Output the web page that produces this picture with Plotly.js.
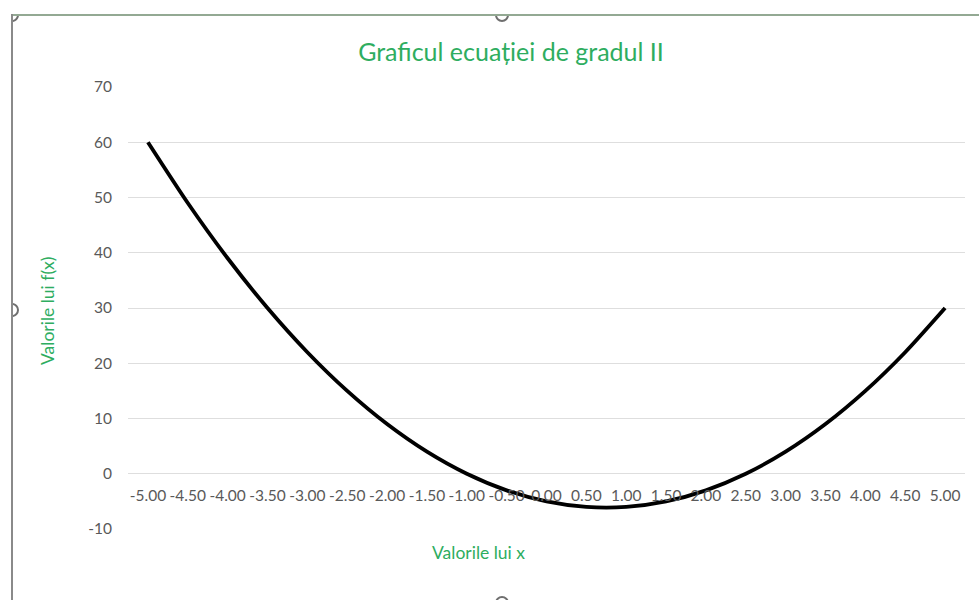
<!DOCTYPE html>
<html>
<head>
<meta charset="utf-8">
<script src="https://cdn.plot.ly/plotly-3.0.1.min.js"></script>
<style>
  html, body { margin: 0; padding: 0; background: #fff; }
  #wrap { position: relative; width: 979px; height: 600px; overflow: hidden; }
  #chart { position: absolute; left: 0; top: 0; width: 979px; height: 600px; }
  .frameTop { position: absolute; left: 12px; top: 14px; width: 967px; height: 0; border-top: 2px solid #93a993; }
  .frameLeft { position: absolute; left: 11px; top: 14px; width: 0; height: 590px; border-left: 2px solid #8a8a8a; }
  .handle { position: absolute; width: 10px; height: 10px; border: 2px solid #6f6f6f; border-radius: 50%; background: transparent; }
  .clip { position: absolute; overflow: hidden; }
</style>
</head>
<body>
<div id="wrap">
  <div id="chart"></div>
  <div class="frameTop"></div>
  <div class="frameLeft"></div>
  <!-- selection handles (decorative) -->
  <div class="clip" style="left:494px; top:16px; width:16px; height:10px;"><div class="handle" style="left:1px; top:-8px;"></div></div>
  <div class="clip" style="left:13px; top:302px; width:10px; height:16px;"><div class="handle" style="left:-8px; top:1px;"></div></div>
  <div class="clip" style="left:13px; top:16px; width:10px; height:10px;"><div class="handle" style="left:-8px; top:-8px;"></div></div>
  <div class="clip" style="left:494px; top:594px; width:16px; height:6px;"><div class="handle" style="left:1px; top:2px;"></div></div>
</div>
<script>
// Data
const xLabels = ["-5.00","-4.50","-4.00","-3.50","-3.00","-2.50","-2.00","-1.50","-1.00","-0.50",
                 "0.00","0.50","1.00","1.50","2.00","2.50","3.00","3.50","4.00","4.50","5.00"];
const fValues = [60, 49, 39, 30, 22, 15, 9, 4, 0, -3, -5, -6, -6, -5, -3, 0, 4, 9, 15, 22, 30];
const yTicks = [-10, 0, 10, 20, 30, 40, 50, 60, 70];

const titleText = "Graficul ecuației de gradul II";
const xTitle = "Valorile lui x";
const yTitle = "Valorile lui f(x)";

const green = "#2ead5f";
const tickColor = "#595959";
const fontFam = "Lato, 'Open Sans', sans-serif";

const trace = {
  x: xLabels,
  y: fValues,
  type: "scatter",
  mode: "lines",
  line: { color: "#000000", width: 3.8, shape: "spline", smoothing: 0.7 },
  hoverinfo: "x+y",
  showlegend: false
};

const layout = {
  width: 979,
  height: 600,
  margin: { l: 128, r: 14, t: 87, b: 71 },
  paper_bgcolor: "#ffffff",
  plot_bgcolor: "#ffffff",
  font: { family: fontFam, color: tickColor, size: 15 },
  title: {
    text: titleText,
    font: { family: fontFam, size: 25, color: green },
    x: (511 - 128) / 837, xref: "paper", xanchor: "center",
    y: 0.913, yref: "container", yanchor: "middle"
  },
  xaxis: {
    type: "category",
    range: [-0.5, 20.5],
    anchor: "free",
    position: 0.125,
    showgrid: false,
    zeroline: false,
    showline: false,
    ticks: "",
    tickangle: 0,
    tickfont: { family: fontFam, size: 15.5, color: tickColor },
    ticklabelstandoff: 11,
    fixedrange: true
  },
  yaxis: {
    range: [-10, 70],
    tickvals: yTicks,
    ticktext: yTicks.map(String),
    showgrid: true,
    gridcolor: "#dedede",
    gridwidth: 1.2,
    zeroline: false,
    showline: false,
    ticks: "",
    ticklabelstandoff: 15,
    tickfont: { family: fontFam, size: 15.5, color: tickColor },
    fixedrange: true
  },
  annotations: [
    {
      text: xTitle, xref: "paper", yref: "paper",
      x: (478 - 128) / 837, y: (529 - 552) / 442,
      xanchor: "center", yanchor: "middle", showarrow: false,
      font: { family: fontFam, size: 17.5, color: green }
    },
    {
      text: yTitle, xref: "paper", yref: "paper",
      x: (47 - 128) / 837, y: (529 - 311) / 442,
      xanchor: "center", yanchor: "middle", showarrow: false, textangle: -90,
      font: { family: fontFam, size: 17.5, color: green }
    }
  ]
};

Plotly.newPlot("chart", [trace], layout, { displayModeBar: false, staticPlot: false });
</script>
</body>
</html>
